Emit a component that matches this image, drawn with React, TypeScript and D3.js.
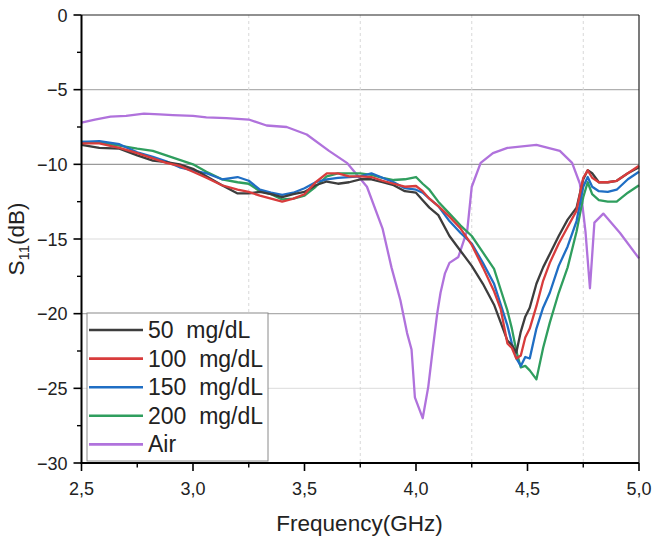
import React, { useRef, useEffect } from 'react';
import { select, scaleLinear, line, range } from "d3";

// shared frequency grid of the glucose curves (GHz)
const freq = [2.5, 2.58, 2.67, 2.75, 2.82, 2.88, 2.94, 3.0, 3.06, 3.13, 3.2, 3.25, 3.3, 3.35, 3.4, 3.45, 3.5, 3.55, 3.6, 3.65, 3.7, 3.75, 3.8, 3.85, 3.9, 3.95, 4.0, 4.03, 4.06, 4.1, 4.15, 4.2, 4.25, 4.3, 4.35, 4.38, 4.41, 4.43, 4.45, 4.47, 4.49, 4.51, 4.54, 4.57, 4.6, 4.64, 4.68, 4.72, 4.75, 4.77, 4.79, 4.82, 4.86, 4.9, 4.95, 5.0];

const s50 = [-8.7, -8.9, -8.95, -9.4, -9.75, -9.85, -10.0, -10.3, -10.8, -11.4, -11.95, -11.95, -11.85, -12.0, -12.2, -12.0, -11.85, -11.4, -11.15, -11.3, -11.2, -11.0, -11.0, -11.2, -11.4, -11.8, -11.9, -12.4, -12.9, -13.4, -14.8, -15.8, -16.8, -18.0, -19.4, -20.6, -21.8, -22.1, -22.6, -21.2, -20.2, -19.6, -18.0, -16.9, -16.0, -14.8, -13.7, -12.9, -11.0, -10.4, -10.6, -11.2, -11.2, -11.1, -10.6, -10.2];
const s100 = [-8.6, -8.6, -8.9, -9.25, -9.6, -9.9, -10.1, -10.5, -10.9, -11.4, -11.7, -11.85, -12.1, -12.3, -12.5, -12.3, -12.0, -11.2, -10.6, -10.6, -10.8, -10.8, -10.85, -11.1, -11.3, -11.5, -11.45, -11.8, -12.3, -12.8, -13.5, -14.3, -15.4, -16.9, -18.5, -19.7, -22.0, -22.3, -23.0, -22.8, -21.6, -21.0, -19.5, -17.8, -16.6, -15.3, -14.2, -13.1, -10.9, -10.4, -10.9, -11.2, -11.2, -11.1, -10.6, -10.1];
const s150 = [-8.5, -8.45, -8.65, -9.2, -9.5, -9.8, -10.2, -10.4, -10.6, -11.0, -10.85, -11.1, -11.7, -11.9, -12.05, -11.9, -11.6, -11.2, -11.0, -10.9, -10.85, -10.8, -10.6, -10.9, -11.2, -11.6, -11.7, -11.9, -12.3, -12.8, -13.8, -14.6, -15.3, -16.6, -18.0, -19.4, -20.8, -22.0, -23.0, -23.5, -22.9, -23.0, -21.0, -19.6, -18.6, -16.8, -15.5, -13.8, -11.5, -10.85, -11.5, -11.8, -11.85, -11.7, -11.0, -10.5];
const s200 = [-8.5, -8.55, -8.75, -8.95, -9.1, -9.4, -9.7, -10.0, -10.5, -11.0, -11.2, -11.3, -11.8, -12.0, -12.35, -12.3, -12.1, -11.5, -10.8, -10.6, -10.6, -10.6, -10.7, -10.9, -11.05, -11.0, -10.85, -11.3, -11.7, -12.5, -13.3, -14.1, -14.8, -15.9, -17.0, -18.4, -19.8, -21.0, -22.5, -23.6, -23.5, -23.8, -24.4, -22.3, -20.6, -18.6, -16.9, -14.5, -12.2, -11.2, -12.0, -12.4, -12.5, -12.5, -11.9, -11.4];

// air curve has its own grid
const airFreq = [2.5, 2.56, 2.63, 2.7, 2.78, 2.85, 2.91, 3.0, 3.06, 3.15, 3.25, 3.33, 3.42, 3.51, 3.61, 3.69, 3.78, 3.85, 3.89, 3.93, 3.96, 3.98, 3.995, 4.03, 4.055, 4.075, 4.095, 4.11, 4.13, 4.15, 4.19, 4.23, 4.25, 4.29, 4.345, 4.41, 4.54, 4.645, 4.7, 4.735, 4.76, 4.78, 4.8, 4.84, 4.915, 5.0];
const sAir = [-7.2, -7.0, -6.8, -6.75, -6.6, -6.65, -6.7, -6.75, -6.85, -6.9, -7.0, -7.4, -7.5, -8.0, -9.1, -9.9, -11.5, -14.3, -16.9, -19.1, -21.3, -22.4, -25.6, -27.0, -24.9, -22.4, -20.0, -18.6, -17.3, -16.6, -16.2, -14.4, -11.5, -9.9, -9.25, -8.9, -8.7, -9.1, -9.9, -11.3, -14.5, -18.3, -13.9, -13.3, -14.6, -16.3];

const seriesNames = ["50  mg/dL", "100  mg/dL", "150  mg/dL", "200  mg/dL", "Air"];
const seriesColors = ["#3d3d3d", "#d83c3c", "#1f6ec4", "#2f9e5e", "#b072dc"];

const xTicks = [2.5, 3.0, 3.5, 4.0, 4.5, 5.0];
const yTicks = [0, -5, -10, -15, -20, -25, -30];

function App() {
  const rootRef = useRef<SVGSVGElement>(null);
  const width = 656;
  const height = 541;
  const margin = { top: 15, right: 17, bottom: 78, left: 81.5 };
  const font = "'Liberation Sans', Arial, sans-serif";

  useEffect(() => {
    const root = select(rootRef.current);
    root.selectAll("*").remove();

    const x = scaleLinear().domain([2.5, 5.0]).range([margin.left, width - margin.right]);
    const y = scaleLinear().domain([-30, 0]).range([height - margin.bottom, margin.top]);

    // horizontal grid
    const gridColor: Record<number, string> = { [-5]: "#b0b0b0", [-10]: "#9a9a9a", [-15]: "#dcdcdc", [-20]: "#adadad", [-25]: "#e2e2e2" };
    root.append("g").selectAll("line")
      .data([-5, -10, -15, -20, -25])
      .enter().append("line")
      .attr("x1", x(2.5)).attr("x2", x(5.0))
      .attr("y1", d => y(d)).attr("y2", d => y(d))
      .attr("stroke", d => gridColor[d])
      .attr("stroke-width", 1.2);

    // vertical dashed grid at minor positions
    root.append("g").selectAll("line")
      .data([3.25, 3.75, 4.25, 4.75])
      .enter().append("line")
      .attr("x1", d => x(d)).attr("x2", d => x(d))
      .attr("y1", y(0)).attr("y2", y(-30))
      .attr("stroke", "#d8d8d8")
      .attr("stroke-dasharray", "3,3")
      .attr("stroke-width", 1);

    // curves
    const all = [
      freq.map((f, i) => [f, s50[i]]),
      freq.map((f, i) => [f, s100[i]]),
      freq.map((f, i) => [f, s150[i]]),
      freq.map((f, i) => [f, s200[i]]),
      airFreq.map((f, i) => [f, sAir[i]]),
    ];
    const path = line<number[]>().x(d => x(d[0])).y(d => y(d[1]));
    const drawOrder = [4, 3, 2, 0, 1];
    drawOrder.forEach(k => {
      root.append("path")
        .attr("d", path(all[k]) as string)
        .attr("fill", "none")
        .attr("stroke", seriesColors[k])
        .attr("stroke-width", 2.3)
        .attr("stroke-linejoin", "round");
    });

    // frame
    root.append("line").attr("x1", x(2.5)).attr("x2", x(5.0)).attr("y1", y(0)).attr("y2", y(0))
      .attr("stroke", "#222").attr("stroke-width", 1.2);
    root.append("line").attr("x1", x(5.0)).attr("x2", x(5.0)).attr("y1", y(0)).attr("y2", y(-30))
      .attr("stroke", "#222").attr("stroke-width", 1.2);
    root.append("line").attr("x1", x(2.5)).attr("x2", x(2.5)).attr("y1", y(0)).attr("y2", y(-30) + 1)
      .attr("stroke", "#000").attr("stroke-width", 2);
    root.append("line").attr("x1", x(2.5) - 1).attr("x2", x(5.0)).attr("y1", y(-30)).attr("y2", y(-30))
      .attr("stroke", "#000").attr("stroke-width", 2);

    // y ticks
    const yMinor = range(-27.5, 0, 5);
    root.append("g").selectAll("line").data(yTicks).enter().append("line")
      .attr("x1", x(2.5) - 8).attr("x2", x(2.5))
      .attr("y1", d => y(d)).attr("y2", d => y(d))
      .attr("stroke", "#000").attr("stroke-width", 1.6);
    root.append("g").selectAll("line").data(yMinor).enter().append("line")
      .attr("x1", x(2.5) - 4.5).attr("x2", x(2.5))
      .attr("y1", d => y(d)).attr("y2", d => y(d))
      .attr("stroke", "#000").attr("stroke-width", 1.4);
    root.append("g").selectAll("text").data(yTicks).enter().append("text")
      .attr("x", x(2.5) - 14)
      .attr("y", d => y(d) + 6.5)
      .attr("text-anchor", "end")
      .attr("font-family", font)
      .attr("font-size", 18)
      .attr("fill", "#222")
      .text(d => d === 0 ? "0" : "\u2212" + Math.abs(d));

    // x ticks
    const xMinor = range(2.75, 5.0, 0.5);
    root.append("g").selectAll("line").data(xTicks).enter().append("line")
      .attr("x1", d => x(d)).attr("x2", d => x(d))
      .attr("y1", y(-30)).attr("y2", y(-30) + 8)
      .attr("stroke", "#000").attr("stroke-width", 1.6);
    root.append("g").selectAll("line").data(xMinor).enter().append("line")
      .attr("x1", d => x(d)).attr("x2", d => x(d))
      .attr("y1", y(-30)).attr("y2", y(-30) + 4.5)
      .attr("stroke", "#000").attr("stroke-width", 1.4);
    root.append("g").selectAll("text").data(xTicks).enter().append("text")
      .attr("x", d => x(d))
      .attr("y", y(-30) + 32)
      .attr("text-anchor", "middle")
      .attr("font-family", font)
      .attr("font-size", 18)
      .attr("fill", "#222")
      .text(d => d.toFixed(1).replace(".", ","));

    // axis titles
    root.append("text")
      .attr("x", 359.5)
      .attr("y", 531)
      .attr("text-anchor", "middle")
      .attr("font-family", font)
      .attr("font-size", 22.5)
      .attr("fill", "#222")
      .text("Frequency(GHz)");

    const yl = root.append("text")
      .attr("transform", `translate(24,${(y(0) + y(-30)) / 2}) rotate(-90)`)
      .attr("text-anchor", "middle")
      .attr("font-family", font)
      .attr("font-size", 22.5)
      .attr("fill", "#222");
    yl.append("tspan").text("S");
    yl.append("tspan").attr("font-size", 15).attr("dy", 5).text("11");
    yl.append("tspan").attr("dy", -5).text("(dB)");

    // legend
    const lg = root.append("g");
    lg.append("rect")
      .attr("x", 87).attr("y", 313).attr("width", 181).attr("height", 148)
      .attr("fill", "#fff").attr("stroke", "#8a8a8a").attr("stroke-width", 1);
    seriesNames.forEach((name, i) => {
      const ly = 330 + i * 28.6;
      lg.append("line")
        .attr("x1", 89).attr("x2", 143).attr("y1", ly).attr("y2", ly)
        .attr("stroke", seriesColors[i]).attr("stroke-width", 2.6);
      lg.append("text")
        .attr("x", 148).attr("y", ly + 8)
        .attr("font-family", font).attr("font-size", 23)
        .attr("fill", "#222")
        .attr("xml:space", "preserve")
        .style("white-space", "pre")
        .text(name);
    });
  });

  return (
    <svg ref={rootRef} width={width} height={height}
      style={{ position: 'absolute', left: 0, top: 0, background: '#fff' }}></svg>
  );
}

export default App;
